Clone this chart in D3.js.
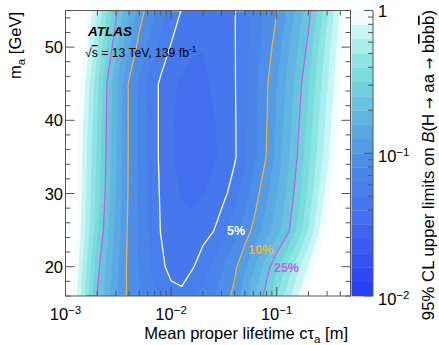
<!DOCTYPE html>
<html><head><meta charset="utf-8">
<script src="https://cdn.jsdelivr.net/npm/d3@7"></script>
<style>html,body{margin:0;padding:0;background:#fff;} svg{display:block;font-family:"Liberation Sans",Arial,Helvetica,sans-serif;}</style>
</head><body><svg id="c" width="439" height="345"></svg>
<script>
// ---- data ----
const ctau = [0.001,0.00126,0.00158,0.002,0.00251,0.00316,0.00398,0.00501,0.00631,0.00794,0.01,0.0126,0.0158,0.02,0.0251,0.0316,0.0398,0.0501,0.0631,0.0794,0.1,0.126,0.158,0.2,0.251,0.316,0.398,0.5];
const mass = [16,20,25,30,35,40,45,50,55];
const lim_m16 = [1.41,0.832,0.449,0.245,0.174,0.123,0.0944,0.0815,0.0703,0.0608,0.0531,0.0525,0.0601,0.0687,0.0787,0.0899,0.107,0.146,0.200,0.275,0.389,0.551,0.778,1.10,1.51,2.04,2.69,3.55];
const lim_m20 = [1.41,0.918,0.500,0.272,0.183,0.127,0.0935,0.0771,0.0634,0.0522,0.0473,0.0453,0.0488,0.0558,0.0665,0.0791,0.0942,0.122,0.164,0.222,0.304,0.421,0.582,0.805,1.12,1.55,2.14,2.82];
const lim_m25 = [1.48,1.02,0.585,0.332,0.204,0.136,0.0946,0.0762,0.0614,0.0498,0.0463,0.0432,0.0432,0.0461,0.0494,0.0592,0.0723,0.0881,0.110,0.141,0.181,0.232,0.335,0.508,0.773,1.17,1.78,2.51];
const lim_m30 = [1.51,1.05,0.619,0.363,0.220,0.144,0.0966,0.0764,0.0604,0.0488,0.0432,0.0391,0.0372,0.0394,0.0431,0.0474,0.0560,0.0716,0.0918,0.119,0.157,0.206,0.281,0.423,0.637,0.959,1.45,2.00];
const lim_m35 = [1.58,1.07,0.638,0.379,0.229,0.148,0.0975,0.0762,0.0594,0.0478,0.0410,0.0372,0.0340,0.0352,0.0383,0.0427,0.0484,0.0604,0.0776,0.100,0.136,0.186,0.254,0.372,0.547,0.804,1.18,1.74];
const lim_m40 = [1.66,1.12,0.684,0.397,0.234,0.150,0.0975,0.0762,0.0594,0.0478,0.0410,0.0370,0.0337,0.0356,0.0391,0.0436,0.0486,0.0600,0.0766,0.0975,0.131,0.175,0.236,0.340,0.500,0.735,1.08,1.58];
const lim_m45 = [1.78,1.20,0.750,0.421,0.239,0.151,0.0975,0.0759,0.0589,0.0479,0.0423,0.0382,0.0352,0.0375,0.0412,0.0449,0.0490,0.0597,0.0755,0.0955,0.126,0.167,0.221,0.311,0.456,0.668,0.982,1.45];
const lim_m50 = [1.86,1.32,0.897,0.522,0.304,0.192,0.127,0.0912,0.0733,0.0589,0.0490,0.0451,0.0416,0.0403,0.0425,0.0457,0.0492,0.0587,0.0719,0.0881,0.111,0.148,0.196,0.266,0.400,0.603,0.906,1.36];
const lim_m55 = [2.0,1.41,1.02,0.635,0.384,0.237,0.163,0.113,0.0875,0.0719,0.059,0.0494,0.0462,0.0432,0.0427,0.0444,0.0494,0.0581,0.0693,0.0828,0.0989,0.131,0.173,0.230,0.340,0.524,0.805,1.26];
const limitRows = [lim_m16,lim_m20,lim_m25,lim_m30,lim_m35,lim_m40,lim_m45,lim_m50,lim_m55];

const contourLevels = [0.05, 0.10, 0.25];
const contourLabels = ["5%","10%","25%"];
const contourLabelAt = [[0.0338,24.3],[0.0535,21.7],[0.0942,19.3]];
const xMajor = [1e-3,1e-2,1e-1];
const xMajorExp = ["\u22123","\u22122","\u22121"];
const yMajor = [20,30,40,50];
const zMajor = [1,0.1,0.01];
const zMajorExp = ["","\u22121","\u22122"];

// ---- style / layout ----
const bandColors = ["#2a3ff7","#2f48f5","#3552f3","#3b5cf1","#4066f0","#446fee","#4677ed","#487fec","#4a86ea","#4d8ee8",
                    "#549ce6","#5aa8e4","#62b5e1","#6ac3de","#72cfdc","#7adcdb","#8ee5e4","#aaeeee","#caf5f5","#f2fdfe"];
const lineColors = ["#ffffff","#ebb236","#bd64e6"];
const Lc = {x0:65.5,x1:350.5,y0:10.5,y1:296,cb0:351.5,cb1:373};
const frameCol = "#555";
const FS = 16.5, FSs = 11.5;

const svg = d3.select("#c");
const x = d3.scaleLog().domain([1e-3,0.5]).range([Lc.x0,Lc.x1]);
const y = d3.scaleLinear().domain([16,55]).range([Lc.y1,Lc.y0]);
const z = d3.scaleLog().domain([0.01,1]).range([Lc.y1,Lc.y0]);

const nx = ctau.length, ny = mass.length;
const grid = [];
for (let j=0;j<ny;j++) for (let i=0;i<nx;i++) grid.push(Math.log10(limitRows[j][i]));
const lc = ctau.map(Math.log10);
function gx(c){const t=Math.max(0,Math.min(nx-1,c-0.5));const i=Math.min(Math.floor(t),nx-2);const f=t-i;return x(Math.pow(10,lc[i]+(lc[i+1]-lc[i])*f));}
function gy(c){const t=Math.max(0,Math.min(ny-1,c-0.5));const j=Math.min(Math.floor(t),ny-2);const f=t-j;return y(mass[j]+(mass[j+1]-mass[j])*f);}
const path = d3.geoPath(d3.geoTransform({point(px,py){this.stream.point(gx(px),gy(py));}}));

svg.append("clipPath").attr("id","pc").append("rect")
  .attr("x",Lc.x0).attr("y",Lc.y0).attr("width",Lc.x1-Lc.x0).attr("height",Lc.y1-Lc.y0);
const plot = svg.append("g").attr("clip-path","url(#pc)");
plot.append("rect").attr("x",Lc.x0).attr("y",Lc.y0).attr("width",Lc.x1-Lc.x0).attr("height",Lc.y1-Lc.y0).attr("fill",bandColors[0]);

const levels = d3.range(21).map(k=>+(-2+0.1*k).toFixed(2));
const filled = d3.contours().size([nx,ny]).thresholds(levels)(grid);
filled.forEach((c,k)=>{
  plot.append("path").attr("d",path(c)).attr("fill",k<20?bandColors[k]:"#ffffff")
    .attr("stroke",k<20?bandColors[k]:"#ffffff").attr("stroke-width",0.3);
});

function linePath(level){
  const c = d3.contours().size([nx,ny]).thresholds([Math.log10(level)])(grid)[0];
  const onB=(p,q)=>(p[0]===0&&q[0]===0)||(p[0]===nx&&q[0]===nx)||(p[1]===0&&q[1]===0)||(p[1]===ny&&q[1]===ny);
  let d="";
  c.coordinates.forEach(poly=>poly.forEach(ring=>{
    const r = ring.slice();
    if (r.length && (r[0][0]!==r[r.length-1][0]||r[0][1]!==r[r.length-1][1])) r.push(r[0]);
    let pen=false;
    for (let k=0;k<r.length-1;k++){
      const p=r[k], q=r[k+1];
      if (onB(p,q)) {pen=false;continue;}
      if (!pen){d+=`M${gx(p[0]).toFixed(2)},${gy(p[1]).toFixed(2)}`;pen=true;}
      d+=`L${gx(q[0]).toFixed(2)},${gy(q[1]).toFixed(2)}`;
    }
  }));
  return d;
}
contourLevels.forEach((lv,i)=>{
  plot.append("path").attr("d",linePath(lv)).attr("fill","none")
    .attr("stroke",lineColors[i]).attr("stroke-width",1.3).attr("stroke-linejoin","round");
});

// contour labels
contourLabels.forEach((t,i)=>{
  svg.append("text").attr("x",x(contourLabelAt[i][0])).attr("y",y(contourLabelAt[i][1]))
    .attr("font-size",12.5).attr("font-weight","bold").attr("fill",lineColors[i]).text(t);
});

// frame
svg.append("rect").attr("x",Lc.x0).attr("y",Lc.y0).attr("width",Lc.x1-Lc.x0).attr("height",Lc.y1-Lc.y0)
  .attr("fill","none").attr("stroke",frameCol).attr("stroke-width",1);

// ticks
const tk = svg.append("g").attr("stroke",frameCol).attr("stroke-width",1);
const xMinor = [];
[1e-3,1e-2,1e-1].forEach(d=>{for(let m=2;m<=9;m++){const v=d*m; if(v<=0.5) xMinor.push(v);}});
xMajor.forEach(v=>{
  tk.append("line").attr("x1",x(v)).attr("x2",x(v)).attr("y1",Lc.y1).attr("y2",Lc.y1-9);
  tk.append("line").attr("x1",x(v)).attr("x2",x(v)).attr("y1",Lc.y0).attr("y2",Lc.y0+9);
});
xMinor.forEach(v=>{
  tk.append("line").attr("x1",x(v)).attr("x2",x(v)).attr("y1",Lc.y1).attr("y2",Lc.y1-5);
  tk.append("line").attr("x1",x(v)).attr("x2",x(v)).attr("y1",Lc.y0).attr("y2",Lc.y0+5);
});
d3.range(16,56,2).forEach(v=>{
  const len = (v%10===0)?9:5;
  tk.append("line").attr("x1",Lc.x0).attr("x2",Lc.x0+len).attr("y1",y(v)).attr("y2",y(v));
  tk.append("line").attr("x1",Lc.x1).attr("x2",Lc.x1-len).attr("y1",y(v)).attr("y2",y(v));
});

// tick labels
xMajor.forEach((v,i)=>{
  const t = svg.append("text").attr("x",x(v)).attr("y",320).attr("text-anchor","middle").attr("font-size",FS).attr("fill","#000");
  t.append("tspan").text("10");
  t.append("tspan").attr("dy",-6.5).attr("font-size",FSs).text(xMajorExp[i]);
});
yMajor.forEach(v=>{
  svg.append("text").attr("x",63).attr("y",y(v)+6).attr("text-anchor","end").attr("font-size",FS).text(v);
});

// axis titles
const xt = svg.append("text").attr("x",348).attr("y",339).attr("text-anchor","end").attr("font-size",FS);
xt.append("tspan").text("Mean proper lifetime c\u03c4");
xt.append("tspan").attr("dy",4).attr("font-size",FSs).text("a");
xt.append("tspan").attr("dy",-4).text(" [m]");

const yt = svg.append("text").attr("transform","translate(21,12) rotate(-90)").attr("text-anchor","end").attr("font-size",FS);
yt.append("tspan").text("m");
yt.append("tspan").attr("dy",4).attr("font-size",FSs).text("a");
yt.append("tspan").attr("dy",-4).text(" [GeV]");

// ATLAS labels
svg.append("text").attr("x",88).attr("y",36).attr("font-size",13.5).attr("font-weight","bold").attr("font-style","italic").text("ATLAS");
const en = svg.append("text").attr("x",85).attr("y",57).attr("font-size",12.2);
en.append("tspan").text("\u221a");
en.append("tspan").style("text-decoration","overline").text("s");
en.append("tspan").text(" = 13 TeV, 139 fb");
en.append("tspan").attr("dy",-5).attr("font-size",8.5).text("-1");

// colour bar
d3.range(20).forEach(k=>{
  const lo=Math.pow(10,levels[k]), hi=Math.pow(10,levels[k+1]);
  svg.append("rect").attr("x",Lc.cb0).attr("width",Lc.cb1-Lc.cb0)
    .attr("y",z(hi)).attr("height",z(lo)-z(hi)+0.3).attr("fill",bandColors[k]);
});
const cbt = svg.append("g").attr("stroke",frameCol).attr("stroke-width",1);
cbt.append("line").attr("x1",Lc.cb1).attr("x2",Lc.cb1).attr("y1",Lc.y0).attr("y2",Lc.y1);
zMajor.forEach(v=>cbt.append("line").attr("x1",Lc.cb1).attr("x2",Lc.cb1-9).attr("y1",z(v)).attr("y2",z(v)));
[0.01,0.1].forEach(d=>{for(let m=2;m<=9;m++){const v=d*m;cbt.append("line").attr("x1",Lc.cb1).attr("x2",Lc.cb1-5).attr("y1",z(v)).attr("y2",z(v));}});
zMajor.forEach((v,i)=>{
  const t = svg.append("text").attr("x",378).attr("y",z(v)+(i===0?6:9)).attr("font-size",FS);
  if (i===0) t.text("1");
  else { t.append("tspan").text("10"); t.append("tspan").attr("dy",-6.5).attr("font-size",FSs).text(zMajorExp[i]); }
});
const zt = svg.append("text").attr("transform","translate(434,10) rotate(-90)").attr("text-anchor","end").attr("font-size",16.8);
zt.append("tspan").text("95% CL upper limits on ");
zt.append("tspan").attr("font-style","italic").text("B");
zt.append("tspan").text("(H ");
zt.append("tspan").attr("font-family","DejaVu Sans").attr("font-size",14).text("\u2192");
zt.append("tspan").text(" aa ");
zt.append("tspan").attr("font-family","DejaVu Sans").attr("font-size",14).text("\u2192");
zt.append("tspan").text(" b");
zt.append("tspan").style("text-decoration","overline").text("b");
zt.append("tspan").text("b");
zt.append("tspan").style("text-decoration","overline").text("b");
zt.append("tspan").text(")");
</script></body></html>
